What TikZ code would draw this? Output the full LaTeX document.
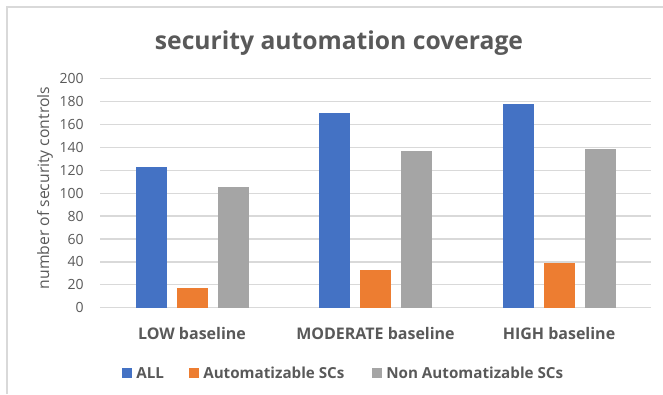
\documentclass[tikz,border=0pt]{standalone}
\usepackage{fontspec}
\setmainfont{Open Sans}
\definecolor{barall}{HTML}{4472C4}
\definecolor{barauto}{HTML}{ED7D31}
\definecolor{barnon}{HTML}{A5A5A5}
\definecolor{charttext}{HTML}{595959}
\definecolor{chartgrid}{HTML}{D9D9D9}
\tikzset{
  ticklabel/.style={anchor=east, inner sep=0pt, text=charttext, font=\fontsize{10.5}{12}\selectfont},
  catlabel/.style={inner sep=0pt, text=charttext, font=\bfseries\fontsize{12}{14}\selectfont},
  keylabel/.style={anchor=west, inner sep=0pt, text=charttext, font=\bfseries\fontsize{11.4}{13}\selectfont}
}
\begin{document}
\begin{tikzpicture}[x=0.75pt, y=-0.75pt]
  \useasboundingbox (0,0) rectangle (663,394);

  % chart frame
  \draw[chartgrid, line width=1.5pt] (7,394) -- (7,7) -- (663,7);

  % title
  \node[text=charttext, font=\bfseries\fontsize{18.5}{22}\selectfont] (title) at (339,43) {security automation coverage};

  % gridlines and ticks
  \foreach \v in {0,20,...,200} {
    \draw[chartgrid, line width=1pt] (100,{307.7-1.145*\v}) -- (651,{307.7-1.145*\v});
    \node[ticklabel] (tick\v) at (84,{307.7-1.145*\v}) {\v};
  }
  \node[rotate=90, text=charttext, font=\fontsize{11.8}{14}\selectfont] (ytitle) at (45,188) {number of security controls};

  % bars
  \foreach \c/\a/\b/\g/\name in {192/123/17/105/LOW, 375.5/170/33/137/MODERATE, 559/178/39/139/HIGH} {
    \fill[barall] (\c-56.5,307.7) rectangle (\c-25.5,{307.7-1.145*\a});
    \fill[barauto] (\c-15.5,307.7) rectangle (\c+15.5,{307.7-1.145*\b});
    \fill[barnon] (\c+25.5,307.7) rectangle (\c+56.5,{307.7-1.145*\g});
    \node[catlabel] (cat\name) at (\c,333) {\name\ baseline};
  }

  % legend
  \fill[barall] (122,367.5) rectangle (132,377.5);
  \node[keylabel] (keyall) at (136,373) {ALL};
  \fill[barauto] (189,367.5) rectangle (199,377.5);
  \node[keylabel] (keyauto) at (203,373) {Automatizable SCs};
  \fill[barnon] (372,367.5) rectangle (382,377.5);
  \node[keylabel] (keynon) at (386,373) {Non Automatizable SCs};

\end{tikzpicture}
\end{document}
